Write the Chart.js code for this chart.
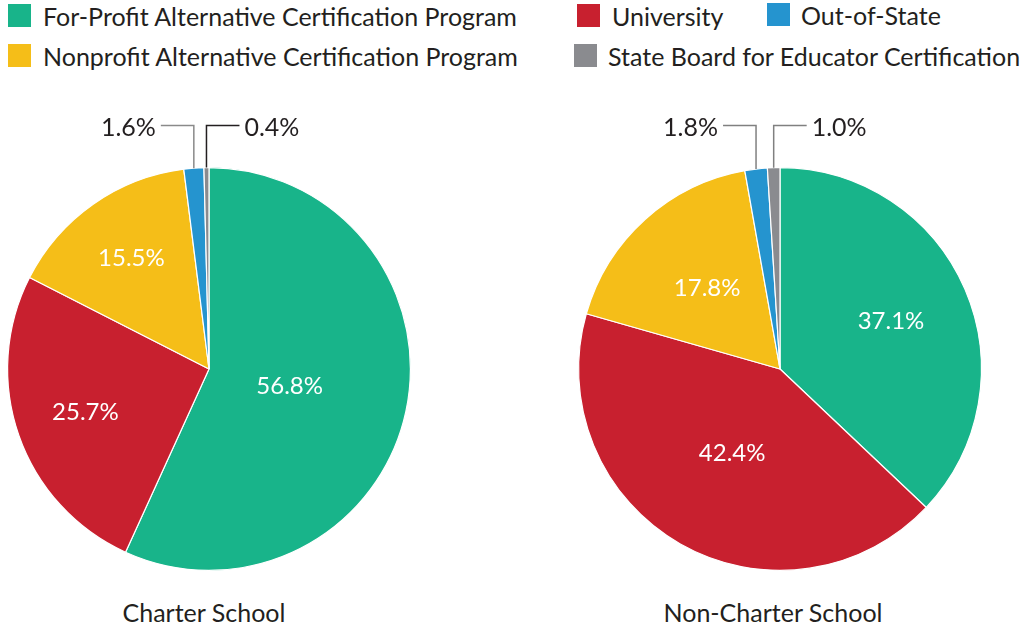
<!DOCTYPE html>
<html>
<head>
<meta charset="utf-8">
<script src="https://cdn.jsdelivr.net/npm/chart.js@4"></script>
<style>
  body { margin: 0; background: #fff; font-family: Lato, "Noto Sans", sans-serif; color: #231f20; }
  #wrap { position: relative; width: 1023px; height: 630px; overflow: hidden; }
  .leg { position: absolute; height: 23px; display: flex; align-items: center; white-space: nowrap; font-size: 25px; }
  .leg i { display: inline-block; width: 23px; height: 23px; margin-right: 12px; }
  canvas { position: absolute; }
  .cap { position: absolute; top: 597px; width: 400px; text-align: center; font-size: 25px; }
</style>
</head>
<body>
<div id="wrap">
  <canvas id="charter" width="511" height="490" style="left:0;top:100px"></canvas>
  <canvas id="nonCharter" width="511" height="490" style="left:512px;top:100px"></canvas>
</div>
<script>
const categories = [
  "For-Profit Alternative Certification Program",
  "University",
  "Nonprofit Alternative Certification Program",
  "Out-of-State",
  "State Board for Educator Certification"
];
const schoolTypes = ["Charter School", "Non-Charter School"];
const charterValues = [56.8, 25.7, 15.5, 1.6, 0.4];
const nonCharterValues = [37.1, 42.4, 17.8, 1.8, 1.0];
const colors = ["#18b48a", "#c8202f", "#f5be18", "#2594cf", "#8a8b8f"];

const wrap = document.getElementById("wrap");

// legend (order as in the picture: two rows)
const legendSpots = [
  { i: 0, x: 8, y: 4, gap: 12 },
  { i: 1, x: 577, y: 4, gap: 12 },
  { i: 3, x: 767, y: 3, gap: 11 },
  { i: 2, x: 8, y: 44, gap: 12 },
  { i: 4, x: 574, y: 44, gap: 11 }
];
legendSpots.forEach(function (s) {
  const d = document.createElement("div");
  d.className = "leg";
  d.style.left = s.x + "px";
  d.style.top = s.y + "px";
  d.innerHTML = '<i style="background:' + colors[s.i] + ';margin-right:' + s.gap + 'px"></i>' + categories[s.i];
  wrap.appendChild(d);
});

// captions under the pies
[204, 773].forEach(function (cx, k) {
  const c = document.createElement("div");
  c.className = "cap";
  c.style.left = (cx - 200) + "px";
  c.textContent = schoolTypes[k];
  wrap.appendChild(c);
});

const pieLabels = {
  id: "pieLabels",
  afterDatasetsDraw(chart, args, opts) {
    const ctx = chart.ctx;
    const meta = chart.getDatasetMeta(0);
    const values = chart.data.datasets[0].data;
    let small = 0;
    ctx.save();
    meta.data.forEach(function (arc, i) {
      const p = arc.getProps(["x", "y", "startAngle", "endAngle", "outerRadius"], true);
      const mid = (p.startAngle + p.endAngle) / 2;
      const txt = values[i].toFixed(1) + "%";
      if (values[i] >= 5) {
        const r = opts.inner[i] * p.outerRadius;
        ctx.fillStyle = "#ffffff";
        ctx.font = "24px Lato, 'Noto Sans', sans-serif";
        ctx.textAlign = "center";
        ctx.textBaseline = "middle";
        ctx.fillText(txt, p.x + Math.cos(mid) * r, p.y + Math.sin(mid) * r);
      } else {
        const px = p.x + Math.cos(mid) * p.outerRadius;
        const py = p.y + Math.sin(mid) * p.outerRadius;
        const ey = p.y - p.outerRadius - 42;
        const dir = small === 0 ? -1 : 1;
        const ex = px + dir * 33;
        ctx.strokeStyle = opts.lineColors[small];
        ctx.lineWidth = 1.5;
        ctx.beginPath();
        ctx.moveTo(px, py);
        ctx.lineTo(px, ey);
        ctx.lineTo(ex, ey);
        ctx.stroke();
        ctx.fillStyle = "#231f20";
        ctx.font = "25px Lato, 'Noto Sans', sans-serif";
        ctx.textAlign = dir < 0 ? "right" : "left";
        ctx.textBaseline = "middle";
        ctx.fillText(txt, ex + dir * 5, ey + 2);
        small++;
      }
    });
    ctx.restore();
  }
};

function makePie(id, values, pad, inner, lineColors) {
  new Chart(document.getElementById(id).getContext("2d"), {
    type: "pie",
    data: {
      labels: categories,
      datasets: [{
        data: values,
        backgroundColor: colors,
        borderColor: "#ffffff",
        borderWidth: 1.2
      }]
    },
    options: {
      responsive: false,
      animation: false,
      events: [],
      layout: { padding: pad },
      plugins: {
        legend: { display: false },
        tooltip: { enabled: false },
        pieLabels: { inner: inner, lineColors: lineColors }
      }
    },
    plugins: [pieLabels]
  });
}

makePie("charter", charterValues, { left: 7, right: 100, top: 67, bottom: 19 },
  [0.41, 0.65, 0.67], ["#8a8a8a", "#231f20"]);
makePie("nonCharter", nonCharterValues, { left: 66, right: 41, top: 67, bottom: 19 },
  [0.6, 0.48, 0.54], ["#808080", "#808080"]);
</script>
</body>
</html>
